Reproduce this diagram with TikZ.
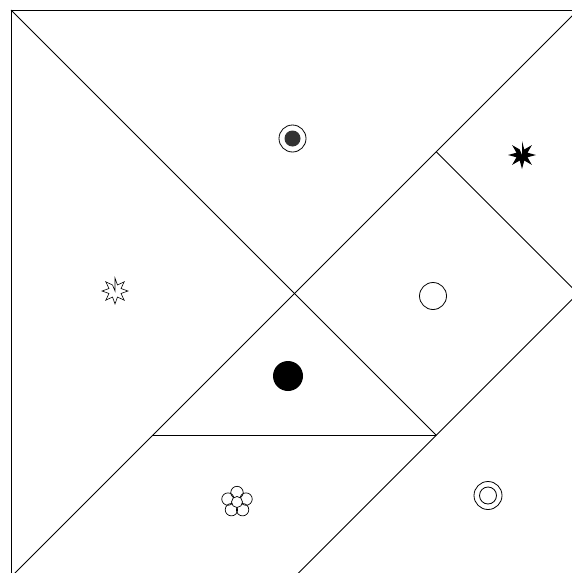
\documentclass[tikz,border=0pt]{standalone}
\begin{document}
\begin{tikzpicture}[x=1pt,y=-1pt,
  edge/.style={line width=0.9pt,black},
  sym/.style={line width=0.8pt,black}]
\useasboundingbox (0,0) rectangle (572,573);
\begin{scope}
\clip (0,0) rectangle (572,573);
% vertices
\coordinate (TL) at (11,10);
\coordinate (TR) at (578,10);
\coordinate (BL) at (11,577);
\coordinate (BR) at (578,577);
\coordinate (C) at (294.5,293.5);
\coordinate (Q) at (436.25,151.75);
\coordinate (R) at (578,293.5);
\coordinate (S) at (436.25,435.25);
\coordinate (P) at (152.75,435.25);
\coordinate (B) at (294.5,577);
\draw[edge] (TL) -- (TR) -- (BR) -- (BL) -- cycle;
\draw[edge] (TL) -- (C) -- (S);
\draw[edge] (TR) -- (BL);
\draw[edge] (Q) -- (R) -- (B);
\draw[edge] (P) -- (S);
\end{scope}
% symbols
\draw[sym] (292.5,138.5) circle (13.5);
\fill[black!80] (292.5,138.5) circle (8);
\draw[sym] (433,296) circle (13.5);
\fill (288,376) circle (15);
\draw[sym] (488,495.5) circle (14);
\draw[sym] (488,495.5) circle (8.5);
% filled 8-point star
\fill (522,155) \foreach \i in {0,...,15}{
  \pgfextra{\pgfmathsetmacro\rr{mod(\i,2)==0 ? 14 : 6}}
  -- ({522+\rr*sin(\i*22.5)},{155-\rr*cos(\i*22.5)})} -- cycle;
% outline 8-point star
\draw[line width=0.6pt] (115,291) \foreach \i in {0,...,15}{
  \pgfextra{\pgfmathsetmacro\rr{mod(\i,2)==0 ? 13 : 6.5}}
  -- ({115+\rr*sin(\i*22.5)},{291-\rr*cos(\i*22.5)})} -- cycle;
% flower
\foreach \a in {0,72,...,288}
  \draw[line width=0.7pt] ({237,502}) ++({9.5*sin(\a)},{-9.5*cos(\a)}) circle (6.2);
\filldraw[line width=0.7pt,fill=white] (237,502) circle (5.5);
\end{tikzpicture}
\end{document}
